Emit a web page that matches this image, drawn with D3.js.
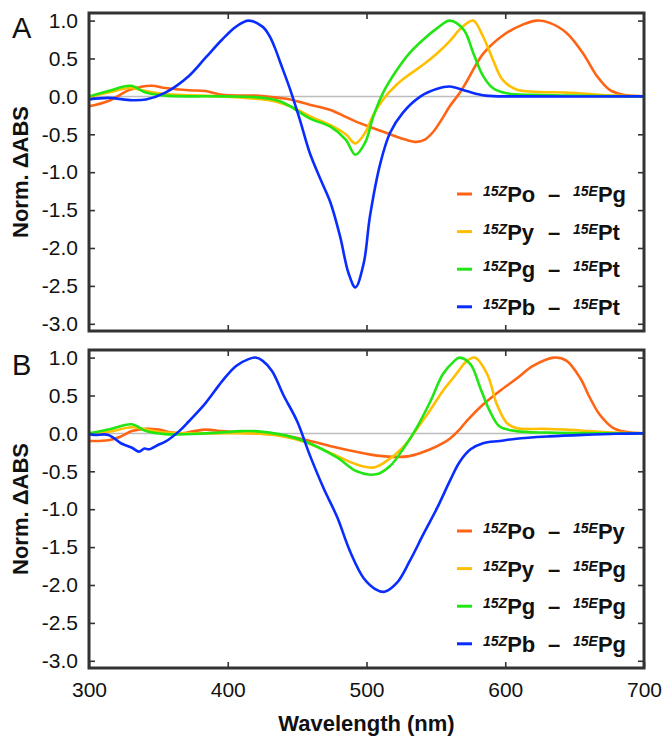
<!DOCTYPE html>
<html>
<head>
<meta charset="utf-8">
<script src="https://cdn.jsdelivr.net/npm/d3@7"></script>
<style>
  body { margin: 0; background: #fff; }
  text { font-family: "Liberation Sans", Arial, sans-serif; fill: #111; }
</style>
</head>
<body>
<div id="chart"></div>
<script>

// ---- data ----
var xTicks = [300, 400, 500, 600, 700];
var yTicks = [-3.0, -2.5, -2.0, -1.5, -1.0, -0.5, 0.0, 0.5, 1.0];
var seriesColors = ["#ff6414", "#ffbf00", "#22e614", "#0a2dff"];

// panel A
var aLabels = [["Po", "Pg"], ["Py", "Pt"], ["Pg", "Pt"], ["Pb", "Pt"]];
var aOrangeWl = [300, 314, 330, 345, 355, 372, 384, 396, 410, 420, 437, 445, 459, 474, 485, 492, 505, 517, 528, 536, 542, 548, 554, 560, 567, 572, 584, 598, 613, 623, 632, 644, 656, 666, 675, 685, 700];
var aOrangeVal = [-0.13, -0.06, 0.09, 0.14, 0.11, 0.08, 0.07, 0.02, 0.01, 0.01, -0.02, -0.04, -0.11, -0.18, -0.27, -0.33, -0.42, -0.50, -0.57, -0.60, -0.57, -0.47, -0.31, -0.13, 0.04, 0.19, 0.56, 0.80, 0.95, 1.0, 0.97, 0.84, 0.57, 0.27, 0.09, 0.02, 0.0];
var aYellowWl = [300, 314, 330, 341, 355, 396, 420, 430, 437, 445, 459, 474, 485, 492, 499, 505, 512, 522, 531, 541, 551, 560, 567, 572, 577, 584, 591, 598, 608, 622, 644, 661, 680, 700];
var aYellowVal = [-0.01, 0.05, 0.11, 0.07, 0.03, 0.0, -0.03, -0.05, -0.08, -0.13, -0.26, -0.38, -0.50, -0.62, -0.48, -0.24, -0.04, 0.16, 0.29, 0.42, 0.57, 0.73, 0.88, 0.96, 1.0, 0.79, 0.49, 0.22, 0.09, 0.06, 0.05, 0.03, 0.01, 0.0];
var aGreenWl = [300, 314, 330, 341, 355, 396, 420, 430, 437, 445, 459, 474, 485, 492, 499, 505, 512, 522, 531, 541, 551, 560, 570, 577, 584, 591, 601, 620, 644, 700];
var aGreenVal = [0.0, 0.07, 0.14, 0.05, 0.01, 0.0, -0.01, -0.03, -0.06, -0.13, -0.29, -0.40, -0.57, -0.77, -0.61, -0.26, 0.05, 0.35, 0.57, 0.75, 0.90, 1.0, 0.88, 0.57, 0.27, 0.11, 0.04, 0.02, 0.01, 0.0];
var aBlueWl = [300, 314, 331, 341, 355, 372, 384, 396, 406, 415, 425, 430, 434, 438, 445, 452, 459, 467, 474, 481, 487, 492, 498, 502.5, 510, 517, 526, 539, 551, 560, 572, 586, 610, 700];
var aBlueVal = [-0.04, -0.02, -0.05, -0.04, 0.05, 0.27, 0.51, 0.75, 0.92, 1.0, 0.92, 0.80, 0.64, 0.44, 0.09, -0.31, -0.74, -1.10, -1.40, -1.85, -2.33, -2.52, -2.2, -1.58, -0.88, -0.48, -0.22, 0.0, 0.10, 0.13, 0.07, 0.01, 0.0, 0.0];

// panel B
var bLabels = [["Po", "Py"], ["Py", "Pg"], ["Pg", "Pg"], ["Pb", "Pg"]];
var bOrangeWl = [300, 314, 323, 331, 341, 350, 360, 367, 376, 384, 396, 410, 420, 437, 455, 479, 503, 519, 531, 546, 555, 560, 567, 572, 584, 596, 608, 620, 635, 644, 654, 661, 668, 678, 687, 700];
var bOrangeVal = [-0.10, -0.09, -0.04, 0.03, 0.06, 0.05, 0.01, 0.0, 0.03, 0.05, 0.03, 0.01, 0.0, -0.02, -0.08, -0.19, -0.28, -0.31, -0.30, -0.21, -0.13, -0.07, 0.05, 0.16, 0.38, 0.56, 0.72, 0.89, 1.0, 0.96, 0.73, 0.47, 0.25, 0.07, 0.02, 0.0];
var bYellowWl = [300, 314, 331, 341, 355, 384, 420, 437, 455, 479, 493, 505, 514, 527, 536, 546, 555, 562, 567, 572, 578, 587, 594, 601, 608, 628, 644, 661, 680, 700];
var bYellowVal = [0.0, 0.02, 0.08, 0.05, 0.01, 0.0, 0.0, -0.03, -0.11, -0.30, -0.41, -0.45, -0.37, -0.17, 0.05, 0.31, 0.56, 0.72, 0.84, 0.95, 1.0, 0.78, 0.38, 0.14, 0.07, 0.06, 0.05, 0.03, 0.01, 0.0];
var bGreenWl = [300, 314, 331, 341, 355, 384, 410, 420, 437, 455, 479, 493, 507, 517, 527, 536, 546, 555, 563, 567, 575, 582, 589, 596, 608, 632, 700];
var bGreenVal = [0.0, 0.05, 0.12, 0.03, -0.01, 0.0, 0.03, 0.03, -0.01, -0.10, -0.32, -0.50, -0.54, -0.43, -0.19, 0.07, 0.42, 0.78, 0.95, 1.0, 0.91, 0.60, 0.29, 0.09, 0.03, 0.01, 0.0];
var bBlueWl = [300, 304, 314, 323, 331, 336, 340, 343, 350, 355, 365, 372, 384, 396, 406, 415, 420, 425, 432, 440, 450, 459, 469, 479, 488, 498, 507, 513, 522, 531, 541, 551, 560, 567, 575, 584, 596, 608, 632, 656, 680, 700];
var bBlueVal = [-0.01, -0.02, -0.02, -0.13, -0.19, -0.24, -0.20, -0.21, -0.15, -0.11, 0.03, 0.16, 0.40, 0.69, 0.89, 0.98, 1.0, 0.96, 0.82, 0.51, 0.16, -0.28, -0.72, -1.11, -1.55, -1.91, -2.06, -2.09, -1.97, -1.69, -1.33, -0.98, -0.63, -0.38, -0.21, -0.13, -0.10, -0.07, -0.04, -0.02, -0.005, 0.0];

function zip(wl, val) {
    return wl.map(function (w, i) { return { x: w, y: val[i] }; });
}

function SpectraChart() {

    var self = this;

    self.initialize = function () {
        self.width = 665;
        self.height = 736;
        self.plotLeft = 89;
        self.plotWidth = 555;
        self.plotHeight = 318;

        self.svg = d3.select("#chart").append("svg")
            .attr("width", self.width)
            .attr("height", self.height);

        self.xScale = d3.scaleLinear().domain([300, 700]).range([0, self.plotWidth]);
        self.yScale = d3.scaleLinear().domain([-3.095, 1.1]).range([self.plotHeight, 0]);

        self.renderPanel({
            top: 13, letter: "A", labels: aLabels, showX: false,
            series: [zip(aOrangeWl, aOrangeVal), zip(aYellowWl, aYellowVal),
                     zip(aGreenWl, aGreenVal), zip(aBlueWl, aBlueVal)]
        });
        self.renderPanel({
            top: 350, letter: "B", labels: bLabels, showX: true,
            series: [zip(bOrangeWl, bOrangeVal), zip(bYellowWl, bYellowVal),
                     zip(bGreenWl, bGreenVal), zip(bBlueWl, bBlueVal)]
        });

        self.svg.append("text")
            .attr("x", self.plotLeft + self.plotWidth / 2)
            .attr("y", 731)
            .attr("text-anchor", "middle")
            .style("font-size", "22px")
            .style("font-weight", "bold")
            .text("Wavelength (nm)");
    }

    self.renderPanel = function (conf) {
        var g = self.svg.append("g")
            .attr("transform", "translate(" + self.plotLeft + "," + conf.top + ")");
        var fmt = function (d) { return d.toFixed(1); };

        /*  zero line  */
        g.append("line")
            .attr("x1", 0).attr("x2", self.plotWidth)
            .attr("y1", self.yScale(0)).attr("y2", self.yScale(0))
            .attr("stroke", "#bdbdbd")
            .attr("stroke-width", 1.5);

        /*  axes with inward ticks  */
        var yLeft = g.append("g")
            .call(d3.axisLeft(self.yScale).tickValues(yTicks).tickFormat(fmt).tickSizeInner(-6).tickSizeOuter(0).tickPadding(11));
        yLeft.selectAll(".tick text")
            .style("font-size", "21px")
            .attr("font-family", null);

        g.append("g")
            .attr("transform", "translate(" + self.plotWidth + ",0)")
            .call(d3.axisRight(self.yScale).tickValues(yTicks).tickFormat("").tickSizeInner(-6).tickSizeOuter(0));

        g.append("g")
            .call(d3.axisTop(self.xScale).tickValues([400, 500, 600]).tickFormat("").tickSizeInner(-6).tickSizeOuter(0));

        var xBottom = g.append("g")
            .attr("transform", "translate(0," + self.plotHeight + ")")
            .call(d3.axisBottom(self.xScale).tickValues(conf.showX ? xTicks : [400, 500, 600])
                .tickFormat(conf.showX ? d3.format("d") : "").tickSizeInner(-6).tickSizeOuter(0).tickPadding(14));
        xBottom.selectAll(".tick text")
            .style("font-size", "21px")
            .attr("font-family", null);

        g.selectAll(".domain").remove();
        g.selectAll(".tick line").attr("stroke", "#333").attr("stroke-width", 1.6);

        /*  spectra  */
        var line = d3.line()
            .x(function (d) { return self.xScale(d.x); })
            .y(function (d) { return self.yScale(d.y); })
            .curve(d3.curveCatmullRom.alpha(0.5));

        g.selectAll(".spectrum")
            .data(conf.series)
            .enter().append("path")
            .attr("class", "spectrum")
            .attr("d", line)
            .attr("fill", "none")
            .attr("stroke", function (d, i) { return seriesColors[i]; })
            .attr("stroke-width", 2.6)
            .attr("stroke-linejoin", "round");

        /*  frame  */
        g.append("rect")
            .attr("width", self.plotWidth)
            .attr("height", self.plotHeight)
            .attr("fill", "none")
            .attr("stroke", "#333")
            .attr("stroke-width", 3);

        /*  legend  */
        var legend = g.selectAll(".legend")
            .data(conf.labels)
            .enter().append("g")
            .attr("class", "legend")
            .attr("transform", function (d, i) { return "translate(368," + (181 + i * 37.6) + ")"; });

        legend.append("line")
            .attr("x1", 0).attr("x2", 15)
            .attr("stroke", function (d, i) { return seriesColors[i]; })
            .attr("stroke-width", 3);

        var txt = legend.append("text")
            .attr("y", 8)
            .style("font-size", "22px")
            .style("font-weight", "bold");
        txt.append("tspan").attr("x", 26).attr("dy", -6)
            .style("font-size", "14px").style("font-style", "italic").text("15Z");
        txt.append("tspan").attr("dy", 6).text(function (d) { return d[0]; });
        txt.append("tspan").attr("x", 91).text("–");
        txt.append("tspan").attr("x", 116).attr("dy", -6)
            .style("font-size", "14px").style("font-style", "italic").text("15E");
        txt.append("tspan").attr("dy", 6).text(function (d) { return d[1]; });

        /*  y title and panel letter  */
        self.svg.append("text")
            .attr("transform", "translate(28," + (conf.top + self.plotHeight / 2) + ") rotate(-90)")
            .attr("text-anchor", "middle")
            .style("font-size", "22px")
            .style("font-weight", "bold")
            .text("Norm. ΔABS");

        self.svg.append("text")
            .attr("x", 12)
            .attr("y", conf.top + 25)
            .style("font-size", "29px")
            .text(conf.letter);
    }
}

var chart = new SpectraChart();
chart.initialize();
</script>
</body>
</html>
